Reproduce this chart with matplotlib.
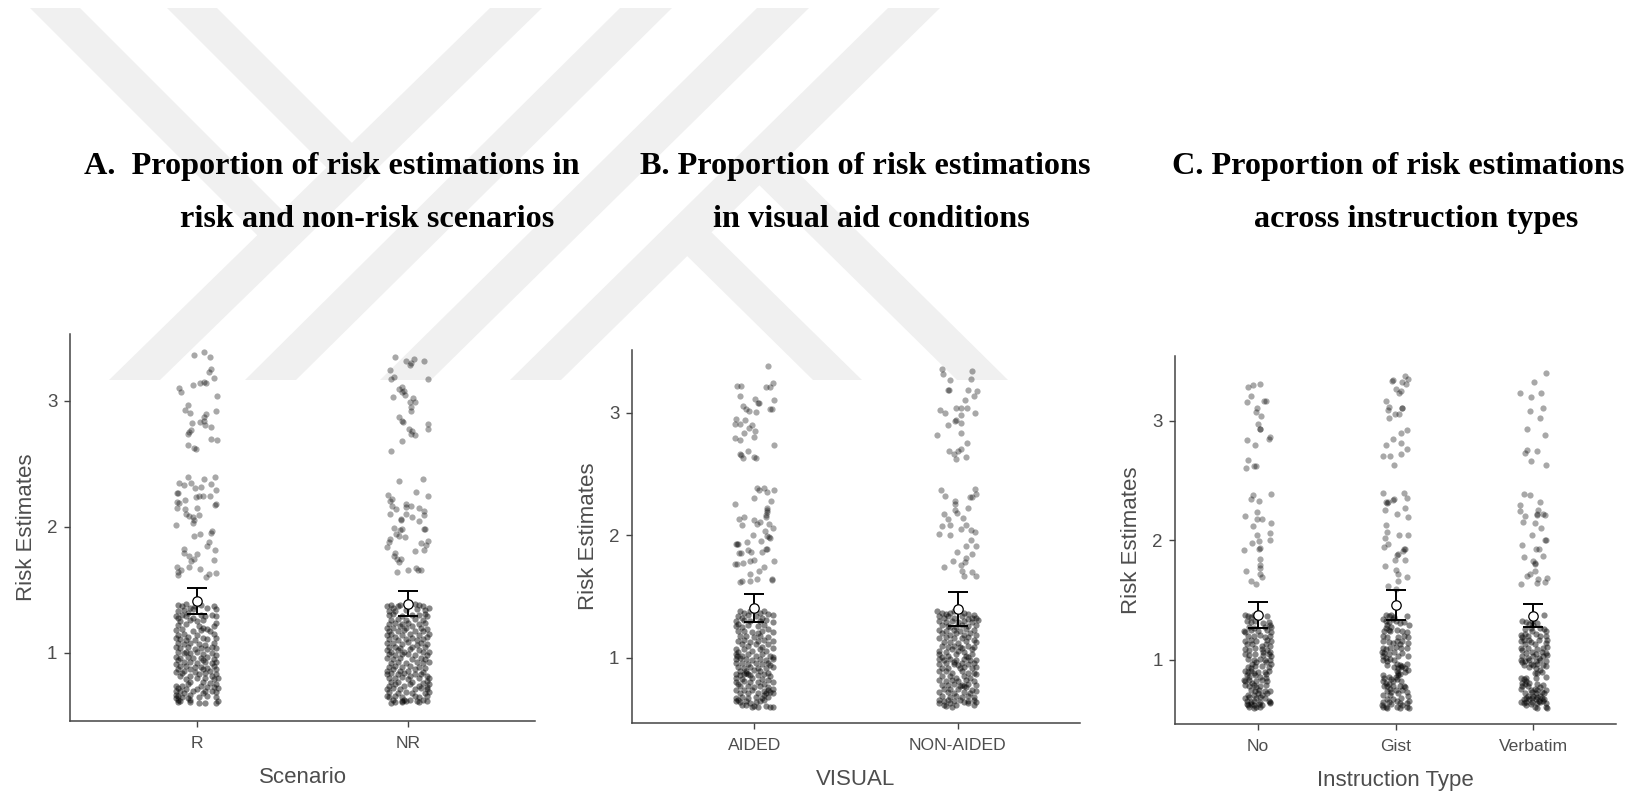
import numpy as np
import matplotlib
matplotlib.use("Agg")
import matplotlib.pyplot as plt

plt.rcParams['font.family'] = ['Liberation Sans', 'DejaVu Sans']

# --- datos: (desplazamiento del jitter, risk estimate) ---
r_points = [(-.012,3.365),(.032,3.389),(.063,3.349),(.069,3.249),(.058,3.23),(.081,3.183),(-.02,3.122),(.017,3.143),(.032,3.148),(.044,3.14),
    (-.086,3.101),(-.076,3.071),(.096,3.042),(-.044,2.966),(-.058,2.931),(-.034,2.907),(.093,2.923),(.042,2.894),(.036,2.873),(-.024,2.823),
    (.015,2.831),(.036,2.836),(.041,2.81),(.068,2.794),(-.029,2.765),(-.037,2.754),(-.044,2.733),(.068,2.698),(.095,2.69),(-.044,2.648),(-.012,2.622),(-.003,2.619),
    (-.042,2.397),(.036,2.381),(.088,2.392),(-.085,2.347),(-.063,2.333),(-.029,2.347),(-.01,2.312),(.019,2.32),(.069,2.339),(.09,2.291),(-.096,2.272),(-.09,2.267),
    (-.005,2.235),(.01,2.241),(.03,2.241),(.061,2.246),(-.096,2.201),(-.085,2.193),(-.054,2.212),(.086,2.172),(.09,2.18),(-.095,2.146),(-.056,2.138),(.002,2.146),
    (-.051,2.106),(-.039,2.09),(-.02,2.079),(.01,2.093),(-.015,2.058),(-.019,2.034),(-.1,2.016),(-.014,1.926),(.015,1.942),(.074,1.968),(.066,1.952),(.056,1.881),
    (.049,1.849),(.086,1.82),(-.059,1.825),(-.063,1.794),(.002,1.788),(-.037,1.77),(-.015,1.749),(-.027,1.73),(.08,1.735),(-.096,1.68),(-.076,1.656),(-.039,1.683),
    (.014,1.667),(-.088,1.643),(-.088,1.616),(.056,1.624),(.091,1.632),(.044,1.6)]
r_low = [(-.09,1.38),(-.07,1.37),(-.05,1.39),(-.03,1.36),(-.01,1.37),(.02,1.38),(.08,1.37),(.09,1.35),(-.09,1.33),(-.06,1.34),(-.04,1.32),(-.02,1.35),(.05,1.36),
    (-.1,1.29),(-.09,1.28),(-.07,1.3),(-.05,1.29),(-.02,1.28),(.02,1.3),(.04,1.29),(.07,1.3),(.09,1.29),(-.08,1.25),(-.03,1.26),(.0,1.25),(.03,1.26),(.09,1.24),
    (-.09,1.22),(-.05,1.23),(.01,1.21),(.03,1.2),(.05,1.19),(.08,1.21),(-.1,1.18),(-.07,1.19),(-.02,1.17),(.02,1.18),(.06,1.17),(-.09,1.14),(-.06,1.15),(-.04,1.13),(.0,1.14),(.08,1.15),
    (-.1,1.12),(-.08,1.11),(-.05,1.1),(-.01,1.1),(.03,1.12),(.05,1.11),(.09,1.12),(-.09,1.08),(-.06,1.07),(-.03,1.08),(.01,1.07),(.04,1.06),(.08,1.08),(.07,1.05),
    (-.1,1.05),(-.08,1.04),(-.04,1.05),(-.01,1.03),(.02,1.04),(.05,1.03),(.09,1.04),(-.09,1.01),(-.06,1.0),(-.05,1.01),(-.03,1.0),(.0,1.01),(.03,.99),(.07,1.0),(.09,.98),
    (-.1,.97),(-.08,.96),(-.04,.97),(-.02,.96),(.02,.96),(.05,.97),(.08,.95),(-.09,.94),(-.06,.93),(-.03,.93),(.0,.92),(.03,.94),(.04,.93),(.07,.92),(.09,.93),
    (-.1,.91),(-.08,.9),(-.05,.9),(-.01,.89),(.02,.89),(.05,.88),(.08,.9),(-.09,.87),(-.06,.86),(-.03,.87),(.03,.87),(.06,.86),(.09,.87),(-.1,.85),(-.07,.84),(-.01,.85),(.04,.84),
    (-.08,.82),(-.03,.82),(.01,.83),(.07,.82),(.09,.83),(-.05,.79),(.0,.8),(.04,.8),(.08,.79),(.1,.8),(-.03,.77),(.03,.77),(.06,.76),(.09,.75),
    (-.1,.74),(-.09,.72),(-.07,.74),(-.04,.75),(.02,.74),(.05,.73),(.08,.73),(.1,.72),(-.1,.7),(-.08,.7),(-.05,.71),(-.02,.7),(.0,.71),(.04,.7),(.07,.7),(.09,.69),
    (-.1,.67),(-.09,.66),(-.06,.68),(-.03,.67),(.03,.68),(.05,.66),(-.1,.64),(-.09,.63),(-.07,.65),(-.04,.64),(-.03,.63),(.01,.65),(.09,.65),(-.09,.61),(-.08,.62),(-.03,.61),(.01,.6),(.04,.6),(.1,.62),(.09,.6)]
nr_points = [(-.063,3.344),(-.01,3.312),(.012,3.296),(.008,3.288),(.029,3.328),(.076,3.315),(-.088,3.246),(-.069,3.19),(-.08,3.172),(.095,3.172),(-.042,3.093),(-.03,3.108),
    (-.019,3.079),(-.027,3.071),(-.014,3.05),(-.074,3.034),(.022,3.026),(.01,2.992),(.03,2.989),(.012,2.947),(.012,2.918),(-.044,2.87),(-.03,2.841),(-.025,2.833),(.095,2.82),
    (.096,2.778),(.003,2.775),(.017,2.759),(.012,2.735),(.032,2.73),(-.03,2.682),(-.083,2.6),
    (-.042,2.362),(.068,2.381),(.039,2.275),(-.095,2.251),(.093,2.246),(-.078,2.225),(-.085,2.204),(-.01,2.185),(-.076,2.169),(.012,2.164),(-.059,2.14),(-.008,2.159),(.051,2.146),
    (.076,2.127),(.076,2.095),(-.085,2.106),(-.01,2.1),(.017,2.079),(-.036,2.058),(-.032,2.061),(.049,2.048),(-.068,1.992),(-.039,1.979),(-.03,1.987),(.073,1.981),(.08,1.981),
    (-.056,1.947),(-.042,1.926),(-.015,1.921),(-.085,1.907),(-.09,1.881),(.096,1.889),(.063,1.876),(.083,1.854),(-.098,1.844),(.074,1.82),(.034,1.807),(-.064,1.794),(-.066,1.767),
    (-.052,1.746),(-.036,1.746),(-.042,1.722),(-.052,1.64),(-.002,1.656),(.037,1.675),(.046,1.656),(.063,1.661)]
nr_low = [(-.1,1.37),(-.08,1.38),(-.07,1.36),(-.05,1.37),(-.04,1.38),(.03,1.39),(.05,1.38),(.07,1.37),(.1,1.36),(-.09,1.33),(-.06,1.33),(-.01,1.34),(.04,1.35),(.08,1.34),
    (-.09,1.3),(-.07,1.31),(-.03,1.29),(.02,1.3),(.05,1.3),(.08,1.31),(.09,1.29),(-.08,1.26),(-.05,1.27),(-.01,1.26),(.03,1.27),(.07,1.26),(-.09,1.23),(-.06,1.24),(-.03,1.23),(.0,1.24),(.05,1.23),(.08,1.24),
    (-.1,1.2),(-.07,1.2),(-.04,1.21),(-.01,1.2),(.02,1.21),(.06,1.2),(.09,1.19),(-.09,1.17),(-.05,1.17),(-.02,1.18),(.03,1.17),(.07,1.17),(-.1,1.14),(-.08,1.15),(-.06,1.13),(-.03,1.14),(.01,1.15),(.05,1.14),(.09,1.13),(.1,1.15),
    (-.09,1.11),(-.05,1.1),(-.01,1.11),(.02,1.12),(.04,1.1),(.07,1.11),(-.1,1.08),(-.07,1.08),(-.03,1.07),(.0,1.09),(.06,1.08),(.09,1.07),(-.09,1.05),(-.06,1.05),(-.04,1.04),(.02,1.05),(.04,1.06),(.08,1.05),
    (-.1,1.02),(-.08,1.01),(-.05,1.02),(-.02,1.01),(.01,1.03),(.05,1.02),(.07,1.01),(.1,1.01),(-.09,.99),(-.06,.98),(-.03,.99),(.0,.99),(.03,.98),(.09,.98),(-.1,.96),(-.07,.95),(-.04,.96),(.02,.95),(.06,.96),(.08,.95),
    (-.08,.92),(-.05,.93),(-.01,.92),(.04,.93),(.07,.92),(.1,.93),(-.09,.89),(-.06,.9),(-.03,.89),(.01,.9),(.05,.89),(.08,.88),(-.1,.86),(-.07,.87),(-.04,.86),(.0,.86),(.03,.87),(.07,.85),
    (-.1,.83),(-.08,.84),(-.05,.83),(-.02,.84),(.01,.82),(.03,.83),(.06,.83),(.09,.82),(-.09,.8),(-.06,.8),(-.03,.81),(.0,.79),(.05,.8),(.1,.8),(-.08,.77),(-.05,.77),(.02,.77),(.07,.76),(.09,.78),
    (-.09,.74),(-.06,.75),(-.02,.74),(.01,.75),(.05,.74),(.09,.73),(.1,.75),(-.1,.71),(-.07,.72),(-.04,.71),(.03,.71),(.06,.72),(.09,.71),(-.09,.69),(-.05,.68),(-.01,.69),(.02,.68),(.08,.68),(.1,.69),
    (-.1,.66),(-.09,.65),(-.06,.66),(-.03,.65),(.03,.66),(.05,.65),(.09,.66),(-.07,.63),(-.03,.62),(-.02,.63),(-.01,.62),(.01,.63),(.04,.62),(.07,.63),(.09,.62),(-.08,.6),(-.06,.61),(-.03,.61),(.05,.61)]
aided_points = [(.066,3.38),(-.083,3.221),(-.063,3.219),(.09,3.243),(.059,3.216),(.076,3.216),(-.071,3.142),(.098,3.104),(.005,3.112),(.022,3.085),(.017,3.079),(-.054,3.055),(-.042,3.03),
    (-.024,3.014),(.01,3.005),(.08,3.03),(.086,3.03),(-.091,2.948),(-.096,2.913),(-.068,2.91),(-.046,2.94),(-.012,2.902),(-.024,2.874),(.002,2.855),(-.051,2.839),(-.093,2.792),
    (-.068,2.779),(0,2.8),(.098,2.735),(-.032,2.686),(-.071,2.669),(-.066,2.653),(-.054,2.634),(0,2.637),(.007,2.634),
    (.014,2.391),(.022,2.369),(.049,2.391),(.061,2.352),(.098,2.372),(-.003,2.306),(.081,2.281),(-.096,2.257),(.064,2.224),(.061,2.189),(.056,2.15),(.064,2.21),(.06,2.17),(-.052,2.15),(-.073,2.134),(0,2.123),
    (.029,2.109),(.014,2.096),(.073,2.096),(-.059,2.082),(.09,2.063),(-.007,2.003),(.052,2.036),(.064,1.997),(.076,1.978),(.072,1.99),(.032,1.954),(-.037,1.945),(-.088,1.929),(-.078,1.932),(-.084,1.93),
    (-.029,1.885),(-.073,1.855),(-.065,1.86),(-.015,1.863),(.064,1.891),(.058,1.89),(.036,1.861),(.098,1.79),(-.003,1.801),(-.093,1.768),(-.085,1.77),(-.054,1.773),(-.02,1.795),(.047,1.74),(.025,1.713),(-.02,1.686),
    (-.071,1.623),(-.062,1.63),(.014,1.642),(.086,1.642),(.088,1.635),(-.02,1.631)]
aided_low = [(-.07,1.38),(-.05,1.37),(-.02,1.38),(.03,1.37),(.05,1.38),(.07,1.36),(-.08,1.34),(-.06,1.33),(-.03,1.35),(.01,1.34),(.04,1.33),(.09,1.35),(-.09,1.3),(-.08,1.28),(-.05,1.31),(-.02,1.3),(.03,1.3),(.06,1.31),(.09,1.29),
    (-.09,1.26),(-.06,1.25),(-.03,1.27),(.02,1.26),(.05,1.27),(.07,1.24),(-.08,1.22),(-.05,1.22),(-.01,1.21),(.02,1.2),(.04,1.22),(.09,1.21),(-.07,1.18),(-.04,1.18),(.0,1.17),(.03,1.18),(.07,1.17),
    (-.08,1.14),(-.05,1.15),(-.02,1.13),(.02,1.14),(.05,1.15),(.09,1.14),(-.06,1.11),(-.03,1.1),(.01,1.11),(.04,1.09),(.07,1.11),(-.09,1.07),(-.08,1.05),(-.05,1.07),(-.01,1.06),(.03,1.07),(.06,1.06),(.09,1.08),
    (-.09,1.03),(-.085,1.02),(-.06,1.02),(-.03,1.03),(.01,1.02),(.04,1.03),(.08,1.02),(.09,1.01),(-.09,.99),(-.07,1.0),(-.04,.99),(-.01,.98),(.03,.99),(.06,.98),(.09,.99),
    (-.09,.96),(-.06,.96),(-.03,.95),(.01,.96),(.04,.95),(.07,.96),(.08,.94),(-.08,.93),(-.05,.92),(-.02,.93),(.02,.92),(.06,.92),(.09,.93),(-.07,.89),(-.04,.89),(-.03,.87),(.0,.9),(.03,.89),(.07,.88),
    (-.09,.87),(-.07,.86),(-.05,.87),(-.04,.88),(-.02,.86),(.02,.86),(.05,.87),(.08,.85),(-.09,.84),(-.06,.83),(-.01,.84),(.04,.83),(.07,.82),(-.09,.8),(-.08,.79),(-.05,.81),(-.02,.8),(.02,.8),(.05,.79),(.09,.8),
    (-.07,.77),(-.03,.77),(.0,.76),(.03,.77),(.07,.76),(.09,.75),(-.09,.74),(-.05,.74),(-.01,.74),(.05,.73),(.07,.74),(.08,.72),(-.07,.71),(-.03,.71),(.02,.71),(.05,.7),(.06,.71),(.09,.71),
    (-.09,.67),(-.08,.66),(-.06,.68),(-.03,.67),(.01,.68),(.04,.67),(.07,.68),(-.09,.65),(-.07,.64),(-.04,.65),(-.02,.63),(.01,.64),(.03,.65),(.05,.66),(-.06,.62),(-.04,.62),(-.01,.6),(.0,.61),(.02,.6),(.06,.61),(.08,.6),(.09,.6)]
nonaided_points = [(-.076,3.358),(-.073,3.32),(.071,3.339),(-.036,3.268),(.066,3.281),(-.047,3.186),(-.042,3.19),(.049,3.186),(.093,3.178),(.08,3.142),(.037,3.109),(-.086,3.025),(-.064,3.0),(-.008,3.044),
    (.017,3.044),(.046,3.038),(.086,2.997),(.015,2.986),(-.014,2.937),(-.008,2.94),(.015,2.918),(-.046,2.899),(-.1,2.82),(.015,2.839),(.046,2.757),(-.042,2.689),(-.017,2.669),(.003,2.689),(.017,2.702),(.039,2.642),(-.008,2.626),
    (-.081,2.369),(.086,2.383),(-.061,2.32),(.068,2.311),(.062,2.31),(.088,2.339),(-.014,2.281),(-.012,2.26),(-.014,2.21),(.049,2.224),(-.068,2.175),(-.005,2.186),(-.047,2.134),(.024,2.142),(-.078,2.079),(-.037,2.087),
    (.041,2.085),(.015,2.052),(.066,2.044),(.085,2.027),(-.093,2.011),(-.036,2.0),(.064,1.967),(.042,1.915),(.091,1.918),(-.005,1.863),(.071,1.847),(.042,1.814),(-.025,1.79),(.037,1.787),(.015,1.76),(-.068,1.746),
    (.02,1.713),(.071,1.705),(.029,1.669),(.091,1.672)]
nonaided_low = [(-.1,1.38),(-.08,1.37),(-.06,1.36),(-.04,1.37),(-.02,1.38),(.03,1.37),(.05,1.36),(.08,1.35),(.09,1.33),(-.09,1.34),(-.07,1.33),(-.05,1.34),(-.02,1.33),(.02,1.34),(.05,1.32),(.07,1.33),
    (-.09,1.3),(-.06,1.29),(-.03,1.3),(.0,1.29),(.03,1.3),(.07,1.29),(.1,1.31),(-.08,1.27),(-.05,1.26),(-.04,1.25),(-.01,1.25),(.02,1.27),(.05,1.26),(.09,1.27),(-.09,1.23),(-.06,1.22),(-.02,1.23),(.01,1.22),(.04,1.24),(.08,1.23),
    (-.08,1.2),(-.04,1.19),(-.01,1.2),(.03,1.19),(.06,1.2),(.09,1.19),(-.09,1.16),(-.06,1.17),(-.02,1.16),(.02,1.16),(.05,1.17),(.08,1.15),(-.07,1.13),(-.04,1.13),(.0,1.12),(.04,1.14),(.09,1.13),
    (-.08,1.1),(-.05,1.09),(-.02,1.1),(.01,1.09),(.02,1.08),(.05,1.1),(.08,1.09),(-.09,1.06),(-.06,1.05),(-.03,1.07),(.0,1.06),(.03,1.05),(.07,1.07),(-.09,1.03),(-.08,1.01),(-.05,1.02),(-.01,1.03),(.04,1.02),(.05,1.01),(.07,1.03),
    (-.09,.99),(-.07,.98),(-.04,.99),(-.02,.97),(-.01,.98),(.03,.99),(.06,.98),(.09,.98),(-.09,.95),(-.06,.96),(-.02,.95),(.0,.94),(.02,.96),(.05,.95),(.08,.96),(-.08,.92),(-.05,.92),(.01,.92),(.03,.93),(.07,.92),(.09,.93),
    (-.09,.89),(-.06,.89),(-.03,.88),(.02,.89),(.05,.88),(.08,.88),(.09,.87),(-.08,.85),(-.04,.85),(-.01,.84),(.03,.85),(.06,.84),(-.09,.82),(-.06,.81),(-.03,.82),(.0,.81),(.04,.82),(.08,.81),
    (-.08,.78),(-.05,.78),(-.02,.79),(.01,.77),(.02,.78),(.03,.77),(.05,.79),(.09,.78),(-.07,.75),(-.04,.75),(.0,.75),(.04,.76),(.07,.74),(-.09,.72),(-.05,.72),(-.02,.71),(.03,.72),(.06,.71),(.09,.73),
    (-.08,.69),(-.04,.68),(-.01,.69),(.02,.68),(.05,.69),(.08,.68),(-.09,.66),(-.07,.65),(-.05,.66),(-.02,.65),(.01,.66),(.05,.65),(.08,.66),(.09,.64),(-.09,.63),(-.07,.62),(-.04,.63),(-.01,.62),(.03,.64),(.05,.63),(.08,.62),(-.06,.61),(-.03,.6)]
no_points = [(-.071,3.287),(-.032,3.298),(.015,3.306),(-.049,3.212),(-.08,3.156),(.049,3.17),(.059,3.17),(-.002,3.106),(-.01,3.072),(.027,3.042),(.002,2.978),(.015,2.936),(.02,2.93),(-.078,2.841),(.088,2.864),(.08,2.85),
    (-.022,2.799),(-.068,2.674),(-.027,2.627),(-.01,2.624),(-.083,2.61),(.095,2.387),(-.032,2.382),(-.051,2.343),(.012,2.331),(-.005,2.242),(-.093,2.203),(-.007,2.181),(.032,2.181),(.1,2.15),(-.037,2.125),
    (-.005,2.05),(.088,2.061),(.09,2.008),(-.041,1.98),(.012,1.992),(.01,1.93),(.015,1.935),(-.098,1.922),(.02,1.841),(.015,1.797),(.02,1.769),(-.088,1.744),(.017,1.721),(.034,1.691),(-.049,1.663),(-.01,1.635)]
no_low = [(-.09,1.38),(-.07,1.37),(-.05,1.36),(-.03,1.38),(.07,1.37),(-.08,1.33),(-.05,1.32),(-.02,1.33),(.04,1.31),(.08,1.32),(.09,1.29),(-.06,1.28),(-.03,1.27),(.05,1.28),(.1,1.28),(-.1,1.24),(-.09,1.23),(-.05,1.25),(.0,1.24),(.07,1.25),(.1,1.23),
    (-.07,1.2),(-.03,1.2),(.02,1.21),(.05,1.19),(.09,1.2),(-.09,1.16),(-.05,1.17),(-.01,1.16),(.07,1.17),(.1,1.16),(-.08,1.13),(-.04,1.13),(.03,1.12),(.06,1.13),(.09,1.12),(-.09,1.09),(-.06,1.08),(-.02,1.1),(.03,1.09),(.04,1.07),(.07,1.08),(.09,1.07),
    (-.09,1.05),(-.06,1.04),(-.02,1.05),(.04,1.04),(.08,1.05),(.1,1.03),(-.07,1.01),(-.03,1.0),(.02,1.01),(.05,1.0),(.09,1.0),(-.04,.97),(-.01,.98),(.06,.98),(.1,.97),(-.07,.94),(-.05,.93),(-.02,.95),(.03,.95),(.08,.94),
    (-.09,.91),(-.07,.9),(-.05,.91),(-.03,.89),(.0,.9),(.05,.9),(.06,.88),(.08,.91),(-.08,.87),(-.06,.86),(-.02,.87),(.02,.86),(.06,.85),(-.1,.83),(-.09,.82),(-.06,.83),(-.04,.81),(-.01,.82),(.03,.83),(.07,.82),
    (-.09,.79),(-.06,.78),(-.03,.79),(-.01,.77),(.02,.78),(.06,.79),(-.05,.75),(-.02,.74),(.01,.75),(.05,.74),(.09,.74),(-.07,.71),(-.03,.71),(.0,.72),(.03,.71),(.07,.72),(-.09,.68),(-.06,.69),(-.01,.68),(.02,.69),(.05,.68),
    (-.08,.66),(-.05,.65),(-.03,.66),(.02,.65),(.08,.66),(.09,.65),(-.08,.63),(-.07,.62),(-.05,.63),(-.03,.62),(-.01,.61),(.01,.63),(.03,.62),(.02,.61),(-.06,.61),(-.03,.6),(.09,.64)]
gist_points = [(.071,3.379),(.088,3.351),(.046,3.329),(-.024,3.337),(-.02,3.34),(.078,3.309),(.002,3.265),(.029,3.237),(.039,3.253),(-.068,3.167),(-.044,3.12),(-.056,3.092),(.046,3.109),(.05,3.11),(-.007,3.058),
    (.022,3.058),(-.049,3.022),(.083,2.925),(.037,2.9),(-.017,2.852),(-.068,2.802),(.039,2.816),(.08,2.769),(-.093,2.705),(-.039,2.71),(.041,2.721),(-.012,2.632),
    (-.09,2.396),(.063,2.396),(.083,2.359),(-.068,2.318),(-.051,2.323),(-.06,2.31),(-.01,2.351),(-.015,2.34),(-.076,2.259),(.071,2.27),(.01,2.223),(.09,2.195),(-.066,2.128),(-.063,2.07),(-.076,2.022),(.029,2.042),
    (.093,2.042),(-.051,1.967),(-.085,1.944),(.071,1.93),(.065,1.925),(.051,1.911),(.01,1.875),(.015,1.885),(-.002,1.838),(.066,1.838),(-.076,1.783),(0,1.755),(.02,1.716),(.085,1.691),(.015,1.657),(-.051,1.618),(.005,1.596)]
gist_low = [(-.07,1.38),(-.05,1.37),(-.03,1.38),(-.01,1.36),(.08,1.37),(-.09,1.34),(-.07,1.33),(-.05,1.32),(-.02,1.34),(.0,1.33),(.03,1.31),(.06,1.32),(-.06,1.29),(-.07,1.27),(-.05,1.25),(-.03,1.28),(.1,1.29),
    (-.08,1.24),(-.04,1.24),(.01,1.25),(.05,1.24),(.08,1.23),(-.09,1.2),(-.06,1.19),(.02,1.19),(.06,1.2),(.09,1.19),(-.09,1.16),(-.05,1.15),(.01,1.16),(.05,1.16),(-.02,1.14),(.03,1.13),(.09,1.14),
    (-.09,1.1),(-.07,1.09),(-.04,1.1),(.0,1.11),(.04,1.1),(.08,1.1),(-.1,1.07),(-.08,1.06),(-.05,1.05),(-.01,1.07),(.05,1.06),(-.09,1.03),(-.07,1.02),(-.04,1.01),(.02,1.03),(.09,1.03),(-.09,1.0),(-.06,.99),(-.01,1.0),
    (-.06,.96),(.01,.97),(.03,.96),(.05,.95),(.08,.97),(-.01,.94),(.02,.93),(.04,.94),(.07,.93),(.09,.92),(.01,.91),(.02,.89),(.03,.88),(.07,.9),(.02,.87),(.0,.86),
    (-.09,.87),(-.08,.85),(-.05,.86),(-.03,.84),(.01,.84),(-.09,.82),(-.07,.81),(-.05,.8),(-.02,.82),(.04,.82),(-.08,.78),(-.06,.78),(-.04,.76),(-.02,.78),(.03,.78),(.06,.78),(.07,.77),
    (-.06,.74),(-.03,.73),(.0,.75),(.05,.75),(.08,.73),(-.09,.71),(-.04,.71),(.02,.72),(.09,.7),(-.06,.67),(-.02,.67),(.04,.68),(.1,.66),(-.09,.65),(-.05,.65),(.01,.66),(.03,.64),(.08,.64),
    (-.1,.62),(-.09,.61),(-.07,.61),(-.06,.6),(-.03,.63),(.01,.61),(.03,.6),(.05,.62),(.08,.61),(.1,.6)]
verbatim_points = [(.09,3.398),(.005,3.329),(-.093,3.237),(.056,3.234),(-.02,3.201),(.073,3.111),(-.022,3.086),(.049,3.028),(-.046,2.933),(.083,2.88),(-.046,2.758),(-.059,2.733),(.027,2.752),(-.015,2.669),(.093,2.63),
    (-.068,2.393),(-.027,2.382),(.049,2.326),(-.098,2.298),(-.093,2.245),(-.059,2.206),(.034,2.251),(.027,2.217),(.03,2.225),(.083,2.217),(.07,2.22),(-.076,2.156),(.015,2.15),(.054,2.103),(-.01,2.042),(.083,2.006),(.09,2.0),
    (-.083,1.964),(.022,1.925),(.039,1.925),(-.068,1.858),(.071,1.869),(-.002,1.825),(.01,1.815),(.01,1.799),(.015,1.744),(-.027,1.721),(-.046,1.699),(.034,1.677),(.1,1.688),(-.088,1.638),(.029,1.643),(.088,1.655)]
verbatim_low = [(.08,1.38),(-.08,1.33),(-.05,1.32),(-.01,1.33),(.03,1.31),(-.03,1.3),(.0,1.29),(.05,1.27),(.08,1.26),(-.06,1.26),(-.02,1.27),(.09,1.24),(-.09,1.21),(-.08,1.19),(-.06,1.22),(-.04,1.2),(-.01,1.24),(.02,1.22),(.05,1.2),(.09,1.2),
    (-.09,1.16),(-.07,1.17),(-.03,1.17),(.04,1.17),(.1,1.17),(-.06,1.13),(-.02,1.15),(.01,1.13),(.09,1.14),(-.09,1.1),(-.08,1.08),(-.04,1.1),(.03,1.09),(.07,1.1),(.1,1.11),(-.05,1.06),(-.01,1.07),(.02,1.05),(.06,1.07),(.09,1.06),
    (-.08,1.03),(-.04,1.02),(.0,1.03),(.04,1.02),(.07,1.03),(.1,1.04),(-.09,1.0),(-.08,.98),(-.06,.99),(-.03,1.0),(.02,.99),(.05,1.0),(.09,.99),(-.07,.96),(-.02,.97),(.0,.96),(.03,.97),(.07,.96),(.09,.95),
    (-.03,.94),(.02,.93),(.05,.92),(.01,.89),(.03,.89),(.06,.9),(.09,.86),(-.09,.85),(-.07,.84),(-.05,.85),(.02,.85),(-.08,.81),(-.05,.82),(-.06,.8),(-.03,.81),(-.08,.78),(-.04,.78),(.03,.8),(.07,.79),
    (-.09,.76),(-.02,.75),(.01,.76),(.03,.75),(.05,.77),(.09,.75),(-.06,.72),(-.01,.73),(.02,.72),(.06,.73),(.08,.72),(-.04,.7),(.0,.7),(.03,.69),(.05,.7),(-.07,.67),(-.05,.68),(-.03,.67),(-.01,.68),(.02,.67),(.04,.66),(.06,.68),(.08,.67),
    (-.09,.65),(-.07,.64),(-.05,.65),(-.01,.65),(.03,.64),(.05,.65),(.07,.66),(.09,.64),(-.05,.62),(-.02,.63),(.01,.61),(.03,.6),(.09,.61),(.1,.6)]

scenario_labels = ['R', 'NR']
visual_labels = ['AIDED', 'NON-AIDED']
instruction_labels = ['No', 'Gist', 'Verbatim']

# medias y barras de error
scenario_mean, scenario_low, scenario_high = [1.413, 1.39], [1.31, 1.294], [1.519, 1.492]
visual_mean, visual_low, visual_high = [1.407, 1.40], [1.29, 1.262], [1.522, 1.541]
instruction_mean, instruction_low, instruction_high = [1.373, 1.46, 1.37], [1.27, 1.337, 1.276], [1.487, 1.585, 1.47]

W, H = 1629, 791
panels = [
    dict(box=(70, 334, 535, 721), ylim=(.46, 3.53), xlabel='Scenario', labels=scenario_labels,
         groups=[(r_points, r_low), (nr_points, nr_low)], stats=(scenario_mean, scenario_low, scenario_high)),
    dict(box=(632, 350, 1080, 723), ylim=(.469, 3.514), xlabel='VISUAL', labels=visual_labels,
         groups=[(aided_points, aided_low), (nonaided_points, nonaided_low)], stats=(visual_mean, visual_low, visual_high)),
    dict(box=(1175, 356, 1616, 724), ylim=(.464, 3.544), xlabel='Instruction Type', labels=instruction_labels,
         groups=[(no_points, no_low), (gist_points, gist_low), (verbatim_points, verbatim_low)],
         stats=(instruction_mean, instruction_low, instruction_high)),
]

titles = [
    (84, 174, 'A.  Proportion of risk estimations in'), (180, 227, 'risk and non-risk scenarios'),
    (640, 174, 'B. Proportion of risk estimations'), (713, 227, 'in visual aid conditions'),
    (1172, 174, 'C. Proportion of risk estimations'), (1254, 227, 'across instruction types'),
]

fig = plt.figure(figsize=(W / 100, H / 100), dpi=100, facecolor='white')

# marca de agua de fondo, en pixeles de la imagen
bg = fig.add_axes([0, 0, 1, 1])
bg.set_xlim(0, W)
bg.set_ylim(H, 0)
bg.axis('off')
mark_color = '#f0f0f0'
for foot, top in [(109, 490), (245, 620), (380, 757), (510, 888)]:
    bg.fill([foot, foot + 51, top + 52, top], [380, 380, 8, 8], color=mark_color, lw=0)
# los brazos entran un poco en la diagonal para que no quede costura
bg.fill([30, 80, 292, 267], [8, 8, 220, 245], color=mark_color, lw=0)
bg.fill([167, 217, 362, 336], [8, 8, 153, 177], color=mark_color, lw=0)
bg.fill([813, 862, 702, 678], [380, 380, 223, 247], color=mark_color, lw=0)
bg.fill([957, 1008, 776, 750], [380, 380, 151, 176], color=mark_color, lw=0)

for x, y, txt in titles:
    bg.text(x, y, txt, family=['Liberation Serif', 'DejaVu Serif'], weight='bold', fontsize=23.2,
            color='black', ha='left', va='baseline')

for p in panels:
    x0, y0, x1, y1 = p['box']
    ax = fig.add_axes([x0 / W, 1 - y1 / H, (x1 - x0) / W, (y1 - y0) / H])
    ax.patch.set_alpha(0)
    n = len(p['labels'])

    for i, (upper, lower) in enumerate(p['groups']):
        upper, lower = np.array(upper), np.array(lower)
        ax.scatter(i + 1 + upper[:, 0], upper[:, 1], s=20, c='black', alpha=0.34, linewidths=0, zorder=2)
        ax.scatter(i + 1 + lower[:, 0], lower[:, 1], s=20, c='black', alpha=0.47, linewidths=0, zorder=2)

    means, lows, highs = p['stats']
    pos = np.arange(1, n + 1)
    means, lows, highs = np.array(means), np.array(lows), np.array(highs)
    ax.errorbar(pos, means, yerr=[means - lows, highs - means], fmt='none', ecolor='black',
                elinewidth=1.4, capsize=7.2, capthick=1.4, zorder=3)
    ax.scatter(pos, means, s=46, c='white', edgecolors='black', linewidths=0.9, zorder=4)

    ax.set_xlim(.4, n + .6)
    ax.set_ylim(*p['ylim'])
    ax.set_xticks(pos)
    ax.set_xticklabels(p['labels'])
    ax.set_yticks([1, 2, 3])
    ax.tick_params(axis='x', length=4, width=1, color='#444444', labelsize=12.6, labelcolor='#4d4d4d', pad=6.5)
    ax.tick_params(axis='y', length=4, width=1, color='#444444', labelsize=13.5, labelcolor='#4d4d4d', pad=5)
    for side in ['top', 'right']:
        ax.spines[side].set_visible(False)
    for side in ['left', 'bottom']:
        ax.spines[side].set_color('#444444')
        ax.spines[side].set_linewidth(1.1)
    ax.set_xlabel(p['xlabel'], fontsize=16, color='#4d4d4d', labelpad=11.5)
    ax.set_ylabel('Risk Estimates', fontsize=16, color='#4d4d4d', labelpad=7.5)

plt.savefig('out.png', dpi=100)
